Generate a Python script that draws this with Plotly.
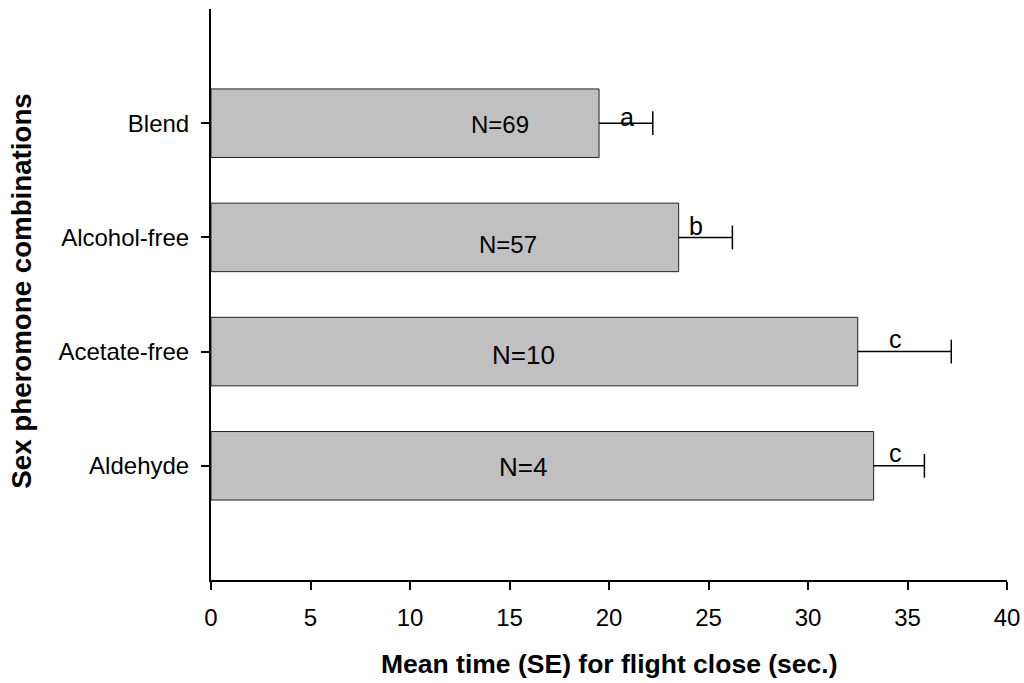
import plotly.graph_objects as go

# Mean flight-close time per pheromone combination, with standard errors
combinations = ["Aldehyde", "Acetate-free", "Alcohol-free", "Blend"]
mean_time = [33.3, 32.5, 23.5, 19.5]
std_err = [2.55, 4.7, 2.7, 2.7]
sample_n = [4, 10, 57, 69]
sig_letters = ["c", "c", "b", "a"]

# Label placement (data x for the N labels, pixel shifts) and font sizes
n_label_x = [15.7, 15.7, 14.9, 14.5]
n_label_shift = [-1, -3, -7.5, -1.5]
n_label_size = [26, 26, 24, 24]
letter_offset = [1.12, 1.9, 0.86, 1.4]
letter_shift = [13, 12.5, 11.5, 6]

FONT = "Liberation Sans, Arial, sans-serif"

fig = go.Figure()
fig.add_trace(go.Bar(
    x=mean_time,
    y=combinations,
    orientation="h",
    width=0.6,
    marker=dict(color="#c0c0c0", line=dict(color="#222222", width=1)),
    showlegend=False,
    hoverinfo="skip",
))

# One-sided error bars: stem from the bar end out to mean + SE, capped at the tip
err_x, err_y = [], []
for cat, m, s in zip(combinations, mean_time, std_err):
    err_x += [m, m + s, None]
    err_y += [cat, cat, None]
fig.add_trace(go.Scatter(
    x=err_x, y=err_y, mode="lines",
    line=dict(color="black", width=1.5),
    showlegend=False, hoverinfo="skip",
))
fig.add_trace(go.Scatter(
    x=[m + s for m, s in zip(mean_time, std_err)], y=combinations,
    mode="markers",
    marker=dict(symbol="line-ns", size=17, line=dict(color="black", width=1.5)),
    showlegend=False, hoverinfo="skip",
))

annotations = []
for i, cat in enumerate(combinations):
    annotations.append(dict(
        x=n_label_x[i], y=cat, xref="x", yref="y",
        text=f"N={sample_n[i]}", showarrow=False,
        xanchor="center", yanchor="middle", yshift=n_label_shift[i],
        font=dict(family=FONT, size=n_label_size[i], color="black"),
    ))
    annotations.append(dict(
        x=mean_time[i] + letter_offset[i], y=cat, xref="x", yref="y",
        text=sig_letters[i], showarrow=False,
        xanchor="center", yanchor="middle", yshift=letter_shift[i],
        font=dict(family=FONT, size=25, color="black"),
    ))

# Axis titles
annotations.append(dict(
    x=0.5, y=-0.1466, xref="paper", yref="paper",
    text="<b>Mean time (SE) for flight close (sec.)</b>", showarrow=False,
    xanchor="center", yanchor="middle",
    font=dict(family=FONT, size=26.5, color="black"),
))
annotations.append(dict(
    x=-0.2385, y=0.5, xref="paper", yref="paper", yshift=3,
    text="<b>Sex pheromone combinations</b>", showarrow=False,
    textangle=-90, xanchor="center", yanchor="middle",
    font=dict(family=FONT, size=27.7, color="black"),
))

fig.update_layout(
    width=1024, height=683,
    margin=dict(l=211, r=17, t=9, b=103),
    paper_bgcolor="white", plot_bgcolor="white",
    annotations=annotations,
)
fig.update_xaxes(
    range=[0, 40], tickmode="linear", tick0=0, dtick=5,
    automargin=False,
    showgrid=False, zeroline=False,
    showline=True, linecolor="black", linewidth=1.5,
    ticks="outside", ticklen=8, tickwidth=1.5, tickcolor="black",
    ticklabelstandoff=7,
    tickfont=dict(family=FONT, size=24, color="black"),
)
fig.update_yaxes(
    categoryorder="array", categoryarray=combinations,
    range=[-1, 4], automargin=False,
    showgrid=False, zeroline=False,
    showline=True, linecolor="black", linewidth=2,
    ticks="outside", ticklen=8, tickwidth=1.5, tickcolor="black",
    ticklabelstandoff=7,
    tickfont=dict(family=FONT, size=24, color="black"),
)

fig.write_html("out.html")
